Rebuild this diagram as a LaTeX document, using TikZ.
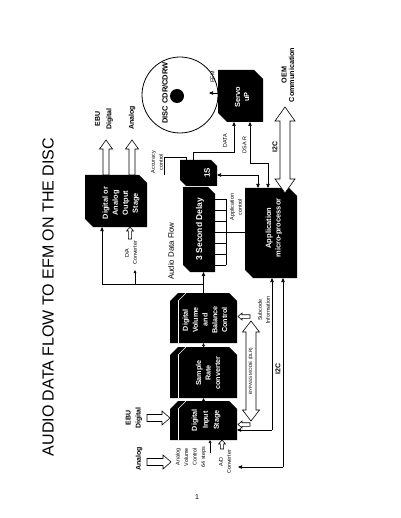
\documentclass[tikz,border=0pt]{standalone}
\usepackage{fontspec}
\setmainfont{Liberation Sans}
\usetikzlibrary{arrows.meta,calc}
\newcommand\chTRBL[2]{\fill (#1.north west) -- ([xshift=-#2]#1.north east) -- ([yshift=-#2]#1.north east) -- (#1.south east) -- ([xshift=#2]#1.south west) -- ([yshift=#2]#1.south west) -- cycle;}
\newcommand\chTD[2]{\fill ([yshift=-#2]#1.north west) -- ([xshift=#2]#1.north west) -- ([xshift=-#2]#1.north east) -- ([yshift=-#2]#1.north east) -- (#1.south east) -- (#1.south west) -- cycle;
  \draw[white,line width=0.5pt] ([yshift=-#2]#1.north west) ++(8pt,0) -- ([xshift=8pt]#1.south west);
  \draw[white,line width=0.5pt] ([yshift=-#2]#1.north west) ++(8pt,0) -- ++(#2,#2);}
\newcommand\hollow[6]{\begin{scope}[shift={#1},rotate=#2]\filldraw[fill=white,draw=black,line width=0.6pt] (0,-#4) -- ({#3-#6},-#4) -- ({#3-#6},-#5) -- (#3,0) -- ({#3-#6},#5) -- ({#3-#6},#4) -- (0,#4) -- cycle;\end{scope}}
\newcommand\hdouble[6]{\begin{scope}[shift={#1},rotate=#2]\filldraw[fill=white,draw=black,line width=0.6pt] (0,0) -- (#6,#5) -- (#6,#4) -- ({#3-#6},#4) -- ({#3-#6},#5) -- (#3,0) -- ({#3-#6},-#5) -- ({#3-#6},-#4) -- (#6,-#4) -- (#6,-#5) -- cycle;\end{scope}}
\begin{document}
\begin{tikzpicture}[x=1pt,y=-1pt,
  ln/.style={line width=0.6pt,draw=black},
  tip/.style={-{Triangle[length=4pt,width=3.4pt]}},
  tips/.style={{Triangle[length=4pt,width=3.4pt]}-{Triangle[length=4pt,width=3.4pt]}},
  smalltip/.style={-{Triangle[length=3pt,width=2.6pt]}},
  box/.style={rectangle,inner sep=0pt,outer sep=0pt},
  wt/.style={text=white,font=\bfseries\fontsize{7}{10}\selectfont,align=center,rotate=90,inner sep=0pt},
  sm/.style={font=\fontsize{5.4}{8}\selectfont,align=center,rotate=90,inner sep=0pt},
  lb/.style={font=\bfseries\fontsize{7}{10}\selectfont,align=center,rotate=90,inner sep=0pt}]
\fill[white] (0,0) rectangle (400,518);
\useasboundingbox (0,0) rectangle (400,518);
% title and page number
\node[rotate=90,font=\fontsize{16}{18}\selectfont,inner sep=0pt] (title) at (48,297) {AUDIO DATA FLOW TO EFM ON THE DISC};
\node[font=\fontsize{7}{8}\selectfont,inner sep=0pt] (page) at (197,497) {1};
% blocks (shapes)
\node[box,minimum width=62pt,minimum height=52pt] (out) at (116,201) {};
\node[box,minimum width=45pt,minimum height=52pt] (servo) at (240.5,96) {};
\node[box,minimum width=37pt,minimum height=26pt] (one) at (198.5,173) {};
\node[box,minimum width=32pt,minimum height=85pt] (delay) at (199,229.5) {};
\node[box,minimum width=52pt,minimum height=90pt] (micro) at (271,233) {};
\node[box,minimum width=67pt,minimum height=50pt] (dvb) at (203.5,318) {};
\node[box,minimum width=67pt,minimum height=51pt] (src) at (203.5,372.5) {};
\node[box,minimum width=67pt,minimum height=39pt] (dis) at (203.5,420.5) {};
\chTRBL{out}{8pt}
\chTRBL{servo}{9pt}
\chTRBL{one}{6pt}
\chTRBL{delay}{7pt}
\chTRBL{micro}{8pt}
\chTD{dvb}{8pt}
\chTD{src}{8pt}
\chTD{dis}{8pt}
% block texts
\node[wt,font=\bfseries\fontsize{7.4}{10}\selectfont] (outT) at (121,203) {Digital or\\Analog\\Output\\Stage};
\node[wt,font=\bfseries\fontsize{7.4}{9}\selectfont] (servoT) at (242,97) {Servo\\uP};
\node[wt,font=\bfseries\fontsize{8}{10}\selectfont] (oneT) at (207,173) {1S};
\node[wt,font=\bfseries\fontsize{8.5}{10}\selectfont] (delayT) at (200,229) {3 Second Delay};
\node[wt,font=\bfseries\fontsize{7.5}{9.5}\selectfont] (microT) at (274,228) {Application\\micro-processor};
\node[wt,font=\bfseries\fontsize{7.2}{9.8}\selectfont] (dvbT) at (205,320) {Digital\\Volume\\and\\Balance\\Control};
\node[wt,font=\bfseries\fontsize{7.2}{9.5}\selectfont] (srcT) at (208,373) {Sample\\Rate\\converter};
\node[wt,font=\bfseries\fontsize{7.2}{11}\selectfont] (disT) at (206,420) {Digital\\Input\\Stage};
% disc
\node[circle,draw,line width=0.8pt,minimum size=76pt,inner sep=0pt] (disc) at (180,95) {};
\node[circle,fill=black,minimum size=14pt,inner sep=0pt] (hole) at (177,96) {};
\node[lb,font=\bfseries\fontsize{7.5}{9}\selectfont] (discT) at (165,93) {DISC CDR/CDRW};
% EFM
\coordinate (efmE) at (209,93);
\draw[ln,tip] (servo.west |- efmE) -- (efmE);
\node[sm] (efm) at (212.5,77) {EFM};
% DATA
\coordinate (d1) at (193,152); \coordinate (d2) at (234,152);
\draw[ln,tip] (one.north -| d1) -- (d1) -- (d2) -- (servo.south -| d2);
\node[sm] (dataL) at (225,141) {DATA};
% DSA R
\coordinate (s1) at (268,163); \coordinate (s2) at (250,163);
\draw[ln,tips] (micro.north -| s1) -- (s1) -- (s2) -- (servo.south -| s2);
\node[sm] (dsaL) at (244.5,145) {DSA R};
% application control to 1S
\coordinate (a1) at (258,175);
\draw[ln,tips] (micro.north -| a1) -- (a1) -- (one.east |- a1);
% accuracy control
\node[sm] (accL) at (157,162) {Accuracy\\control};
\coordinate (ac0) at (164,175); \coordinate (ac1) at (164,157); \coordinate (ac2) at (186,157);
\draw[ln] (ac0) -- (ac1) -- (ac2) -- (ac2 |- one.north);
% comb on delay
\coordinate (cb1) at (226,199); \coordinate (cb2) at (226,265);
\draw[ln] (cb1) -- (cb2);
\foreach \yy in {199,210,221,232,243,254,265} \draw[ln] (delay.east |- 0,\yy) -- (cb1 |- 0,\yy);
\coordinate (ap) at (226,232);
\draw[ln] (ap) -- (ap -| micro.west);
\node[sm] (appL) at (236,207) {Application\\control};
% I2C top
\hdouble{(285,193)}{90}{86}{5}{10}{14}
\node[lb] (i2cT) at (275,147) {I2C};
\node[lb,font=\bfseries\fontsize{7.2}{7.5}\selectfont] (oem) at (288,75) {OEM\\Communication};
% output stage arrows
\hollow{(106,175)}{90}{35}{3}{6.5}{9}
\hollow{(132,175)}{90}{35}{3}{6.5}{9}
\node[lb,font=\bfseries\fontsize{7}{11.5}\selectfont] (ebuO) at (104,119) {EBU\\Digital};
\node[lb] (anO) at (132,118) {Analog};
% audio frame
\coordinate (f1) at (102,284); \coordinate (f2) at (203.5,284);
\draw[ln,tip] (f2) -- (f1) -- (out.south -| f1);
\draw[ln,tip] (dvb.north) -- (delay.south -| dvb.north);
\coordinate (da) at (135,284); \coordinate (daT) at (135,270);
\draw[ln,smalltip] (da) -- (daT);
\node[sm] (daL) at (131,253) {D/A\\Converter};
\hollow{(130,239)}{90}{12}{1.6}{3.5}{4}
\node[lb,font=\fontsize{7.8}{9}\selectfont] (adf) at (171,251) {Audio Data Flow};
% between input blocks
\draw[ln,smalltip] (src.north) -- (dvb.south);
\draw[ln,smalltip] (dis.north) -- (src.south);
% subcode and I2C bottom
\coordinate (sc) at (272,430);
\draw[ln,tip] (sc) -- (micro.south -| sc);
\draw[ln,tip] (sc) -- (dis.east |- sc);
\coordinate (ic) at (283,467); \coordinate (adE) at (238,467);
\draw[ln,tip] (ic) -- (micro.south -| ic);
\draw[ln,tip] (ic) -- (adE);
\node[sm] (subL) at (264,310) {Subcode\\Information};
\node[lb] (i2cB) at (278,369) {I2C};
% bypass
\hdouble{(251,421)}{90}{100}{5}{8.5}{11}
\node[rotate=90,font=\fontsize{4.6}{5}\selectfont,inner sep=0pt] (byp) at (251,371) {BYPASS MODE (DLR)};
\hollow{(250,316.5)}{180}{12}{1.8}{3.5}{4}
\hollow{(250,424.5)}{180}{12}{1.8}{3.5}{4}
% inputs
\hollow{(147,418)}{0}{23}{3.5}{7}{8}
\hollow{(147,462)}{0}{24}{3.5}{7}{8}
\node[lb] (ebuI) at (134,418) {EBU\\Digital};
\node[lb] (anI) at (139,459) {Analog};
\node[sm,font=\fontsize{5.4}{8.5}\selectfont] (avc) at (191,457) {Analog\\Volume\\Control\\64 steps};
\coordinate (st) at (210,453);
\draw[ln,smalltip] (st) -- (st |- dis.south);
\node[sm] (adL) at (225,462) {A/D\\Converter};
\hollow{(222,449)}{90}{9}{1.6}{3.5}{4}
\end{tikzpicture}
\end{document}
